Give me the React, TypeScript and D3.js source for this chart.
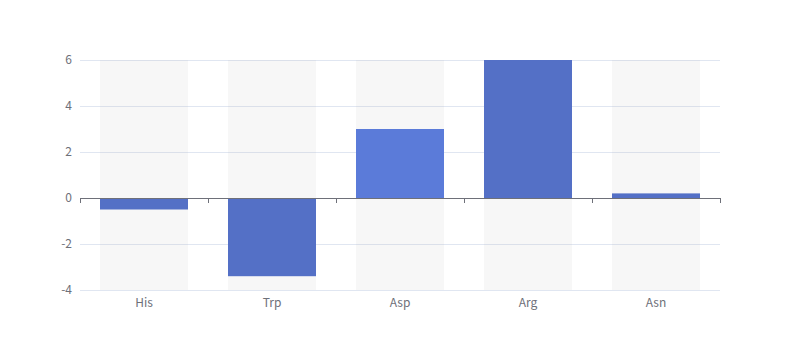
import React from "react";
import * as d3 from "d3";

const categories = ["His", "Trp", "Asp", "Arg", "Asn"];
const values = [-0.5, -3.4, 3.0, 6.0, 0.2];
const barColors = ["#5470c6", "#5470c6", "#5b7bd9", "#5470c6", "#5470c6"];
const yTicks = [-4, -2, 0, 2, 4, 6];

export default function App() {
  const W = 800, H = 360;
  const left = 80, right = 720, top = 60, bottom = 290;
  const x = d3.scaleBand<string>().domain(categories).range([left, right]);
  const y = d3.scaleLinear().domain([-4, 6]).range([bottom, top]);
  const bw = x.bandwidth() * 0.6875;
  const font = "'Noto Sans CJK SC', sans-serif";
  const axisColor = "#6e7079";
  const y0 = y(0);
  const bounds = categories.map((c) => x(c)!).concat([right]);
  return (
    <svg width={W} height={H} style={{ position: "absolute", left: 0, top: 0 }}>
      <rect width={W} height={H} fill="#fff" />
      {yTicks.map((t) => (
        <g key={t}>
          {t !== 0 && (
            <line x1={left} x2={right} y1={y(t) + 0.5} y2={y(t) + 0.5} stroke="#e0e6f1" />
          )}
          <text x={left - 8} y={y(t)} dy="0.35em" textAnchor="end" fontSize={12} fill={axisColor} fontFamily={font}>
            {t}
          </text>
        </g>
      ))}
      {categories.map((c, i) => {
        const cx = x(c)! + x.bandwidth() / 2;
        const v = values[i];
        return (
          <g key={c}>
            <rect x={cx - bw / 2} y={top} width={bw} height={bottom - top} fill="rgba(180,180,180,0.1)" />
            <rect
              x={cx - bw / 2}
              y={Math.min(y(v), y0)}
              width={bw}
              height={Math.abs(y(v) - y0)}
              fill={barColors[i]}
            />
            <text x={cx} y={bottom + 13} dy="0.35em" textAnchor="middle" fontSize={12} fill={axisColor} fontFamily={font}>
              {c}
            </text>
          </g>
        );
      })}
      <line x1={left} x2={right} y1={y0 + 0.5} y2={y0 + 0.5} stroke={axisColor} />
      {bounds.map((b, i) => (
        <line key={i} x1={b + 0.5} x2={b + 0.5} y1={y0} y2={y0 + 5} stroke={axisColor} />
      ))}
    </svg>
  );
}
